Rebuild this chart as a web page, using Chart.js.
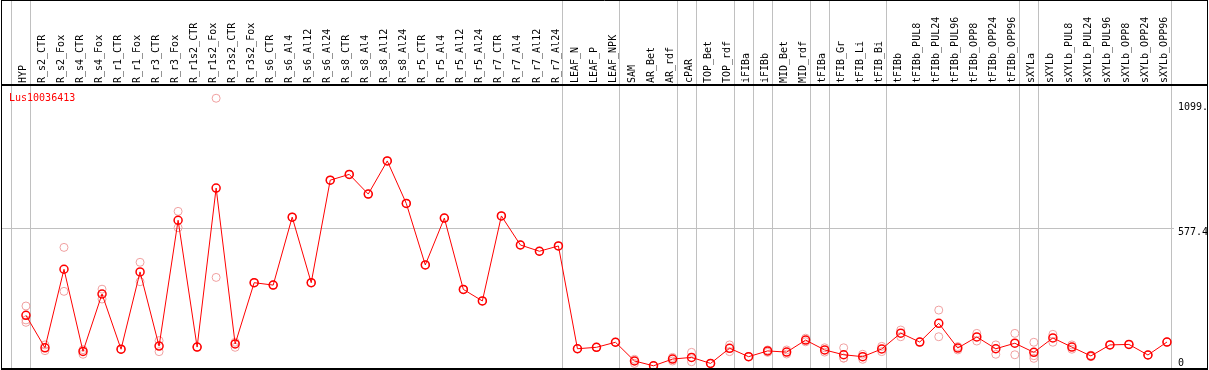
<!DOCTYPE html>
<html>
<head>
<meta charset="utf-8">
<script src="https://cdn.jsdelivr.net/npm/chart.js@4/dist/chart.umd.min.js"></script>
<style>
  html, body { margin: 0; padding: 0; background: #fff; }
  canvas { position: absolute; left: 0; top: 0; }
</style>
</head>
<body>
<canvas id="chart-expr" width="1208" height="370"></canvas>
<script>
const geneName = 'Lus10036413';

const categories = [
  'HYP', 'R_s2_CTR', 'R_s2_Fox', 'R_s4_CTR', 'R_s4_Fox', 'R_r1_CTR', 'R_r1_Fox',
  'R_r3_CTR', 'R_r3_Fox', 'R_r1s2_CTR', 'R_r1s2_Fox', 'R_r3s2_CTR', 'R_r3s2_Fox',
  'R_s6_CTR', 'R_s6_Al4', 'R_s6_Al12', 'R_s6_Al24', 'R_s8_CTR', 'R_s8_Al4',
  'R_s8_Al12', 'R_s8_Al24', 'R_r5_CTR', 'R_r5_Al4', 'R_r5_Al12', 'R_r5_Al24',
  'R_r7_CTR', 'R_r7_Al4', 'R_r7_Al12', 'R_r7_Al24', 'LEAF_N', 'LEAF_P', 'LEAF_NPK',
  'SAM', 'AR_Bet', 'AR_rdf', 'cPAR', 'TOP_Bet', 'TOP_rdf', 'iFIBa', 'iFIBb',
  'MID_Bet', 'MID_rdf', 'tFIBa', 'tFIB_Gr', 'tFIB_Li', 'tFIB_Bi', 'tFIBb',
  'tFIBb_PUL8', 'tFIBb_PUL24', 'tFIBb_PUL96', 'tFIBb_OPP8', 'tFIBb_OPP24', 'tFIBb_OPP96',
  'sXYLa', 'sXYLb', 'sXYLb_PUL8', 'sXYLb_PUL24', 'sXYLb_PUL96', 'sXYLb_OPP8',
  'sXYLb_OPP24', 'sXYLb_OPP96'
];

// mean expression per sample
const meanValues = [
  215, 80, 407, 65, 304, 74, 396, 87, 611, 83, 745, 96, 351,
  341, 624, 351, 778, 802, 720, 858, 681, 425, 620, 323, 275,
  629, 508, 482, 504, 76, 82, 103,
  25, 5, 33, 40, 15, 78, 43, 67, 62, 112, 71, 51, 43, 75, 141,
  104, 182, 79, 125, 76, 99,
  61, 121, 83, 46, 92, 94, 50, 104
];

// replicate values (pink circles)
const rep1 = [
  254, 92, 498, 72, 324, 74, 436, 110, 648, 83, 1119, 103, 351,
  341, 624, 351, 778, 802, 720, 858, 681, 425, 620, 323, 275,
  629, 508, 482, 504, 76, 82, 103,
  32, 5, 40, 61, 15, 92, 43, 71, 71, 120, 80, 80, 53, 86, 154,
  104, 237, 85, 140, 92, 140,
  103, 136, 74, 43, 92, 94, 50, 104
];
const rep2 = [
  196, 68, 315, 53, 283, 74, 355, 64, 580, 83, 373, 82, 351,
  341, 624, 351, 778, 802, 720, 858, 681, 425, 620, 323, 275,
  629, 508, 482, 504, 76, 82, 103,
  15, 5, 25, 22, 15, 64, 43, 61, 54, 105, 62, 37, 32, 64, 126,
  104, 126, 71, 108, 53, 51,
  47, 103, 92, 49, 92, 94, 50, 104
];
const rep3 = [
  186, null, null, null, null, null, null, null, null, null, null, null, null,
  null, null, null, null, null, null, null, null, null, null, null, null,
  null, null, null, null, null, null, null,
  null, null, null, null, null, null, null, null, null, null, null, 37, null, null, null,
  null, null, null, null, null, null,
  36, null, null, null, null, null, null, null
];

// last sample index of each group (separator lines)
const groupEnds = [-1, 0, 28, 31, 34, 35, 37, 38, 39, 41, 42, 45, 52, 53, 60];

const yTickValues = [0, 577.4, 1099.6];

const toPoints = arr => arr.map((v, i) => ({ x: i, y: v }));

const monoFont = { family: 'DejaVu Sans Mono', size: 10 };

const repStyle = {
  showLine: false,
  pointRadius: 4,
  pointBorderWidth: 1,
  pointBorderColor: '#f0a0a0',
  pointBackgroundColor: 'rgba(0,0,0,0)',
  clip: false
};

const separatorPlugin = {
  id: 'separators',
  beforeDatasetsDraw(chart) {
    const ctx = chart.ctx;
    const x = chart.scales.x;
    ctx.save();
    ctx.strokeStyle = '#c0c0c0';
    ctx.lineWidth = 1;
    groupEnds.forEach(g => {
      const px = Math.round(x.getPixelForValue(g + 0.21)) + 0.5;
      ctx.beginPath();
      ctx.moveTo(px, 0);
      ctx.lineTo(px, 370);
      ctx.stroke();
    });
    ctx.restore();
  }
};

const framePlugin = {
  id: 'frame',
  afterDraw(chart) {
    const ctx = chart.ctx;
    ctx.save();
    ctx.strokeStyle = '#000';
    ctx.lineWidth = 1;
    ctx.beginPath();
    ctx.moveTo(1.5, 0.5); ctx.lineTo(1207.5, 0.5);
    ctx.moveTo(1.5, 0); ctx.lineTo(1.5, 370);
    ctx.moveTo(1207.5, 0); ctx.lineTo(1207.5, 370);
    ctx.stroke();
    ctx.lineWidth = 2;
    ctx.beginPath();
    ctx.moveTo(1, 85); ctx.lineTo(1208, 85);
    ctx.moveTo(1, 369); ctx.lineTo(1208, 369);
    ctx.stroke();
    // gene name
    ctx.fillStyle = '#ff0000';
    ctx.font = '10px "DejaVu Sans Mono"';
    ctx.textBaseline = 'alphabetic';
    ctx.fillText(chart.data.datasets[0].label, 9, 101);
    ctx.restore();
  }
};

const configExpr = {
  type: 'line',
  data: {
    datasets: [
      {
        label: geneName,
        data: toPoints(meanValues),
        borderColor: '#ff0000',
        borderWidth: 1,
        pointRadius: 4,
        pointBorderWidth: 1.5,
        pointBorderColor: '#ff0000',
        pointBackgroundColor: 'rgba(0,0,0,0)',
        tension: 0,
        clip: false
      },
      { label: 'rep1', data: toPoints(rep1), ...repStyle },
      { label: 'rep2', data: toPoints(rep2), ...repStyle },
      { label: 'rep3', data: toPoints(rep3), ...repStyle }
    ]
  },
  options: {
    responsive: false,
    animation: false,
    devicePixelRatio: 1,
    layout: { autoPadding: false, padding: { left: 2, top: 1, right: 0, bottom: 3 } },
    plugins: {
      legend: { display: false },
      tooltip: { enabled: false }
    },
    scales: {
      x: {
        type: 'linear',
        position: 'top',
        min: -1.26,
        max: 60.37,
        afterBuildTicks: scale => {
          scale.ticks = categories.map((_, i) => ({ value: i }));
        },
        afterFit: scale => {
          scale.height = 85;
          scale.paddingLeft = 0;
          scale.paddingRight = 0;
        },
        grid: { display: false, drawTicks: false },
        border: { display: false },
        ticks: {
          autoSkip: false,
          minRotation: 90,
          maxRotation: 90,
          padding: 3,
          labelOffset: 9.5,
          color: '#000',
          font: monoFont,
          callback: value => categories[value]
        }
      },
      y: {
        type: 'linear',
        position: 'right',
        min: 0,
        max: 1170,
        afterBuildTicks: scale => {
          scale.ticks = yTickValues.map(v => ({ value: v }));
        },
        afterFit: scale => {
          scale.width = 34;
          scale.paddingTop = 0;
          scale.paddingBottom = 0;
        },
        grid: {
          drawTicks: false,
          color: ctx => (ctx.tick && ctx.tick.value === 577.4) ? '#c0c0c0' : 'rgba(0,0,0,0)'
        },
        border: { display: false },
        ticks: {
          padding: 4,
          color: '#000',
          font: { family: 'DejaVu Sans Mono', size: 10, lineHeight: '8px' },
          callback: value => value === 0 ? ['0', ''] : ['', String(value)]
        }
      }
    }
  },
  plugins: [separatorPlugin, framePlugin]
};

const myChartExpr = new Chart(document.getElementById('chart-expr'), configExpr);
</script>
</body>
</html>
